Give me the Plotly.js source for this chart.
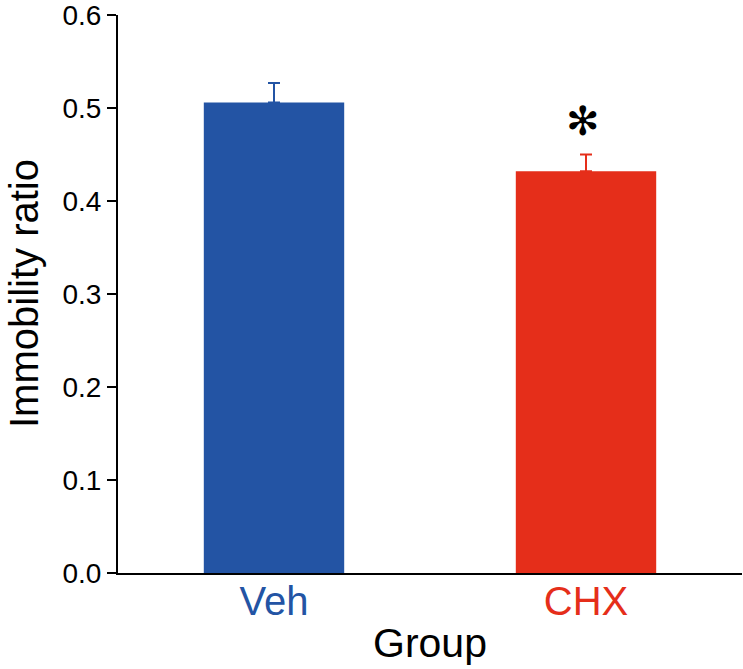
<!DOCTYPE html>
<html>
<head>
<meta charset="utf-8">
<script src="https://cdn.plot.ly/plotly-3.0.1.min.js"></script>
<style>
html,body{margin:0;padding:0;background:#fff;}
#graph{width:743px;height:669px;}
</style>
</head>
<body>
<div id="graph"></div>
<script>
let groups = ['Veh','CHX'];
let means = [0.506, 0.432];
let errs = [0.021, 0.018];
let colors = ['#2354a4','#e52e1a'];
let yTicks = [0,0.1,0.2,0.3,0.4,0.5,0.6];
let yTickText = ['0.0','0.1','0.2','0.3','0.4','0.5','0.6'];

let traces = groups.map((g,i)=>({
    type:'bar',
    x:[g],
    y:[means[i]],
    width:0.45,
    marker:{color:colors[i]},
    error_y:{type:'data',array:[errs[i]],symmetric:false,arrayminus:[0],
        color:colors[i],thickness:2,width:6},
    showlegend:false,
    hoverinfo:'skip'
}));

Plotly.newPlot('graph',traces,{
    width:743,
    height:669,
    margin:{l:118,r:1,t:15,b:96},
    paper_bgcolor:'#fff',
    plot_bgcolor:'#fff',
    font:{family:'Liberation Sans, Arial, sans-serif',color:'#000'},
    xaxis:{
        type:'category',
        range:[-0.5,1.5],
        showline:true,
        linecolor:'#000',
        linewidth:2,
        ticks:'',
        showgrid:false,
        tickfont:{size:40},
        ticklabelstandoff:-8,
        ticktext:['<span style="fill:'+colors[0]+'">Veh</span>','<span style="fill:'+colors[1]+'">CHX</span>'],
        tickvals:groups,
        title:{text:'Group',font:{size:41},standoff:6}
    },
    yaxis:{
        range:[0,0.6],
        showline:true,
        linecolor:'#000',
        linewidth:2,
        ticks:'outside',
        ticklen:9,
        tickwidth:2,
        tickcolor:'#000',
        tickvals:yTicks,
        ticktext:yTickText,
        ticklabeloverflow:'allow',
        showgrid:false,
        zeroline:false,
        tickfont:{size:28}
    },
    annotations:[{
        x:'CHX',
        y:0.484,
        text:'✻',
        showarrow:false,
        xshift:-3,
        yshift:2,
        font:{family:'DejaVu Sans',size:40,color:'#000'},
        yanchor:'middle'
    },{
        xref:'paper',
        yref:'paper',
        x:0,
        y:0.5,
        xshift:-94,
        text:'Immobility ratio',
        textangle:-90,
        showarrow:false,
        xanchor:'center',
        yanchor:'middle',
        font:{size:40,color:'#000'}
    }]
},{displayModeBar:false});
</script>
</body>
</html>
